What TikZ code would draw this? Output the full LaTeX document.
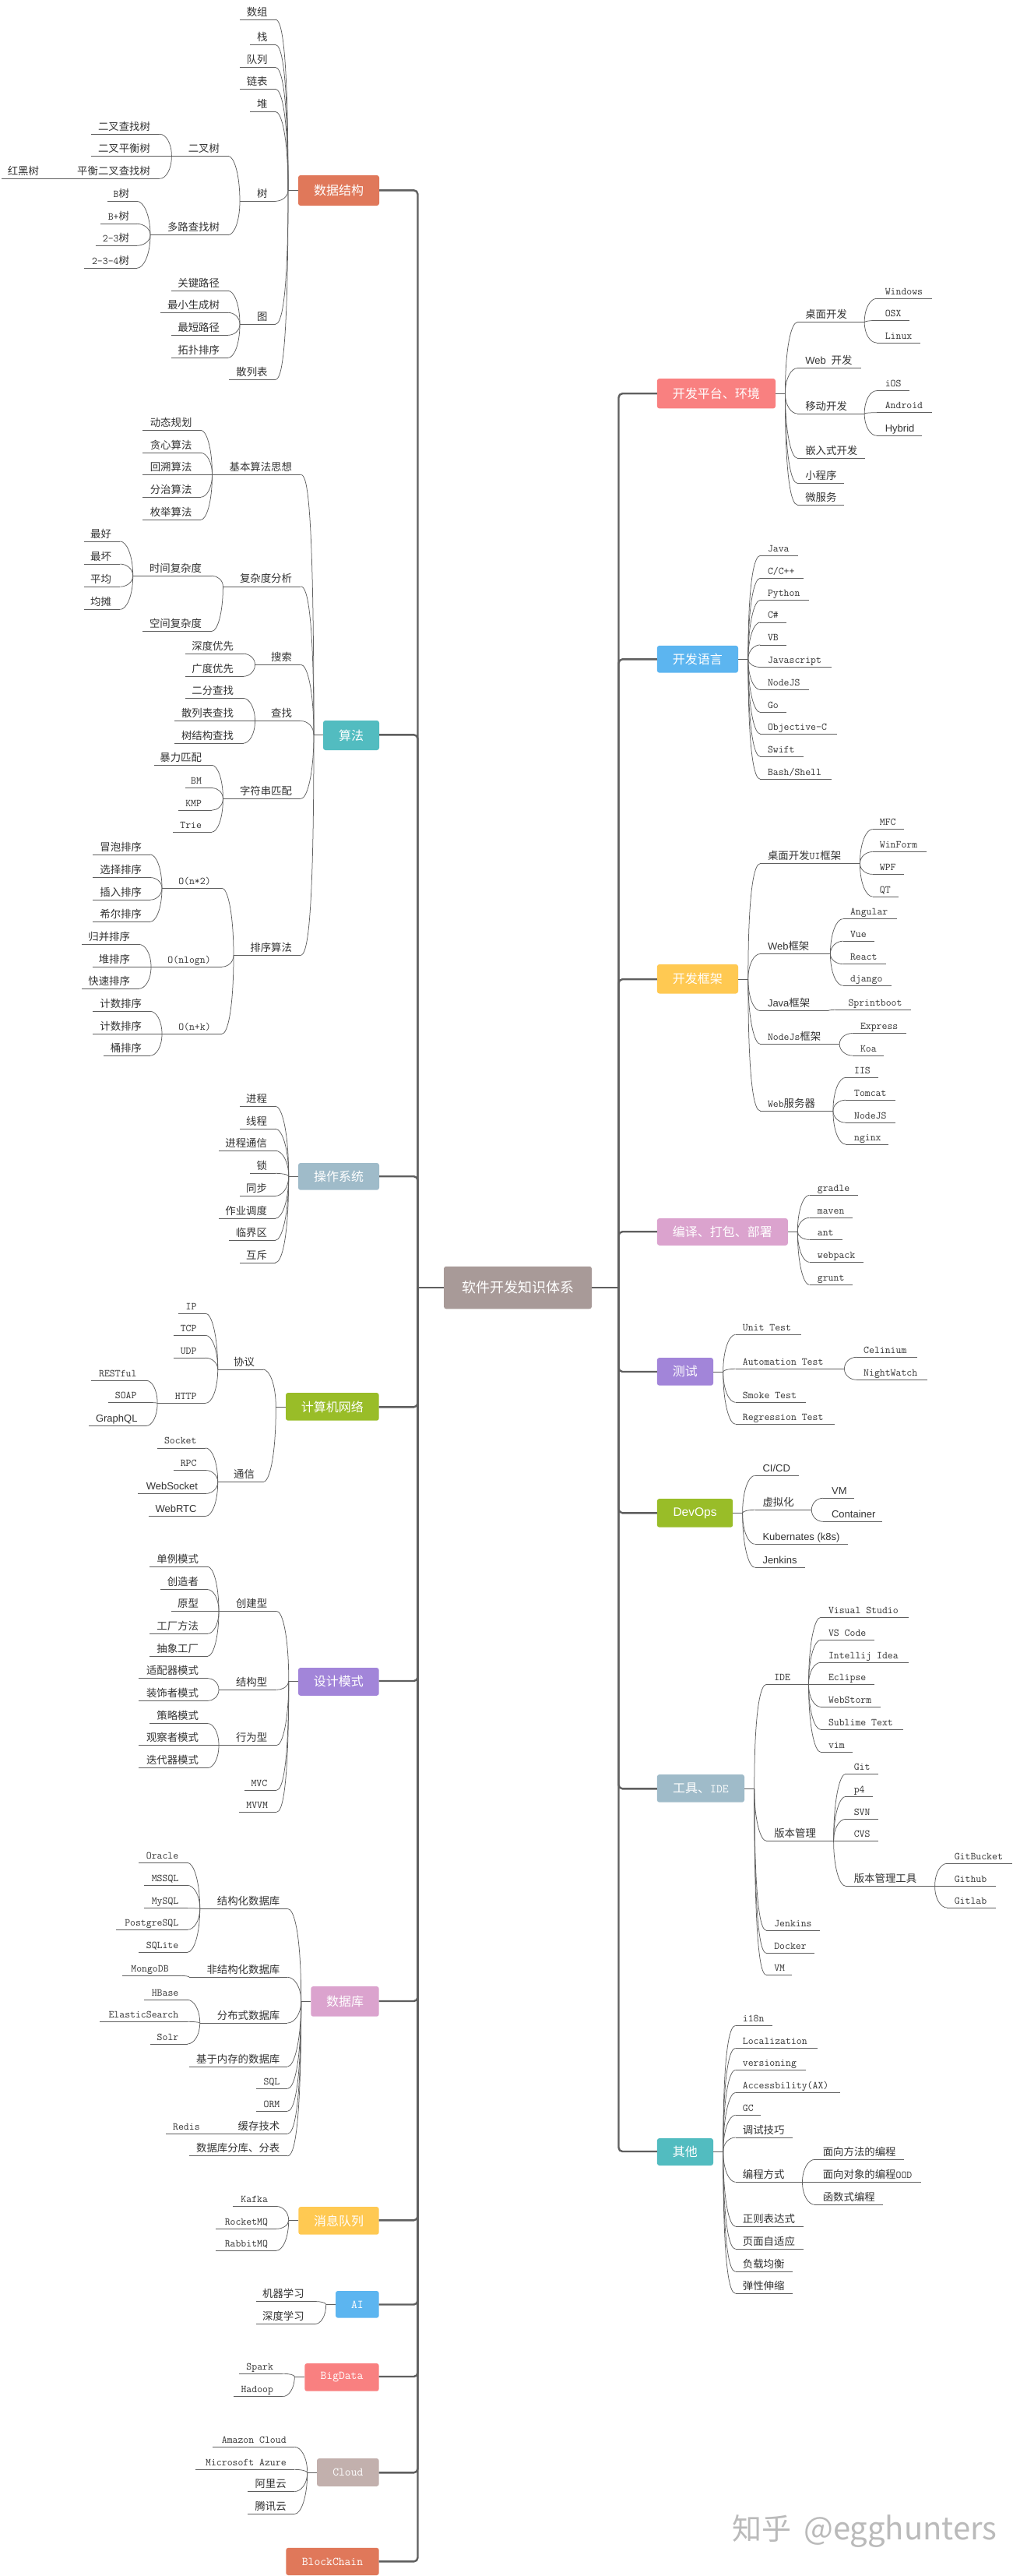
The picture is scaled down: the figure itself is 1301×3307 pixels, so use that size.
\documentclass[tikz,border=0pt]{standalone}
\usepackage{fontspec}
\usetikzlibrary{calc}
\newfontfamily\cjkf{Noto Sans CJK SC}
\newfontfamily\ssf{Liberation Sans}[Scale=0.97]
\newcommand\Zh[1]{{\cjkf #1}}
\newcommand\Ss[1]{{\ssf #1}}
\definecolor{cLine}{HTML}{5F5F5F}
\definecolor{cText}{HTML}{333333}
\definecolor{cOrange}{HTML}{E0785A}
\definecolor{cTeal}{HTML}{52BCC0}
\definecolor{cSlate}{HTML}{9FBBC9}
\definecolor{cGreen}{HTML}{99BD28}
\definecolor{cPurple}{HTML}{A285D9}
\definecolor{cPink}{HTML}{DBA3CE}
\definecolor{cYellow}{HTML}{FFC952}
\definecolor{cBlue}{HTML}{5CB5F0}
\definecolor{cRed}{HTML}{F98080}
\definecolor{cTaupe}{HTML}{C2B0AD}
\definecolor{cRoot}{HTML}{A89A98}
\tikzset{
 txt/.style={inner sep=0pt,outer sep=0pt,text=cText,font=\ttfamily\fontsize{13.4}{15}\selectfont},
 lnk/.style={draw=cLine,line width=0.75pt},
 trunk/.style={draw=cLine,line width=2.4pt},
 box/.style={inner sep=0pt,outer sep=0pt,rounded corners=3pt,text=white,font=\ttfamily\fontsize{15.2}{18}\selectfont},
}
\newcommand\conn[2]{\draw[lnk] let \p1=(#1),\p2=(#2),\n1={sign(\y1-\y2)*min(0.4*abs(\y1-\y2),33)} in (\p1) .. controls (\x1,\y2+\n1) and ({0.5*\x1+0.5*\x2},\y2) .. (\p2);}
% name, parent, xL, xText, xCurve, y, text
\newcommand\LL[7]{%
 \node[txt,anchor=base east] (#1) at (#4,#6-5) {#7};
 \coordinate (#1-j) at (#3,#6);
 \coordinate (#1-c) at (#5,#6);
 \draw[lnk] (#1-j)--(#1-c);
 \conn{#2-j}{#1-c}}
% name, parent, xCurve, xText, xR, y, text
\newcommand\RR[7]{%
 \node[txt,anchor=base west] (#1) at (#4,#6-5) {#7};
 \coordinate (#1-j) at (#5,#6);
 \coordinate (#1-c) at (#3,#6);
 \draw[lnk] (#1-c)--(#1-j);
 \conn{#2-j}{#1-c}}
% name, x0,y0,x1,y1, fill, junction x, line y, text
\newcommand\BX[9]{%
 \node[box,fill=#6,minimum width={(#4-#2)*1pt},minimum height={(#5-#3)*1pt}] (#1) at ({(#2+#4)/2},{(#3+#5)/2}) {#9};
 \coordinate (#1-j) at (#7,#8);
 \draw[lnk] (#1-j) -- (#1.west |- #1-j)}
\newcommand\BXL[9]{\BX{#1}{#2}{#3}{#4}{#5}{#6}{#7}{#8}{#9};
 \draw[trunk,rounded corners=5pt] (#1.east |- #1-j) -| (rootL);}
\newcommand\BXR[9]{%
 \node[box,fill=#6,minimum width={(#4-#2)*1pt},minimum height={(#5-#3)*1pt}] (#1) at ({(#2+#4)/2},{(#3+#5)/2}) {#9};
 \coordinate (#1-j) at (#7,#8);
 \draw[lnk] (#1-j) -- (#1.east |- #1-j);
 \draw[trunk,rounded corners=5pt] (#1.west |- #1-j) -| (rootR);}
\begin{document}
\begin{tikzpicture}[x=1pt,y=-1pt]
\fill[white] (0,0) rectangle (1301,3307);
\useasboundingbox (0,0) rectangle (1301,3307);
\coordinate (rootL) at (536.5,1653);
\coordinate (rootR) at (794.5,1653);
\node[box,fill=cRoot,minimum width=190pt,minimum height=54.5pt,font=\cjkf\fontsize{18}{20}\selectfont] (root) at (665,1653) {软件开发知识体系};
\draw[trunk] (rootL) -- (root.west |- rootL);
\draw[trunk] (root.east |- rootR) -- (rootR);

% ---------- 数据结构
\BXL{ds}{383}{225}{487}{264}{cOrange}{370}{244.3}{\Zh{\fontsize{16}{18}\selectfont 数据结构}}
\LL{ds1}{ds}{308}{343.6}{353.6}{25}{\Zh{数组}}
\LL{ds2}{ds}{321}{343.6}{353.6}{57.3}{\Zh{栈}}
\LL{ds3}{ds}{308}{343.6}{353.6}{86.3}{\Zh{队列}}
\LL{ds4}{ds}{308}{343.6}{353.6}{114.3}{\Zh{链表}}
\LL{ds5}{ds}{321}{343.6}{353.6}{143.3}{\Zh{堆}}
\LL{tree}{ds}{308}{343.6}{353.6}{258.3}{\Zh{树}}
\LL{graph}{ds}{308}{343.6}{353.6}{416.3}{\Zh{图}}
\LL{hash}{ds}{294}{343.6}{353.6}{487.3}{\Zh{散列表}}
\LL{bt}{tree}{220.4}{282}{293}{200.3}{\Zh{二叉树}}
\LL{mt}{tree}{193}{282}{293}{301.7}{\Zh{多路查找树}}
\LL{bt1}{bt}{117}{193}{205.4}{172.3}{\Zh{二叉查找树}}
\LL{bt2}{bt}{117}{193}{205.4}{200.3}{\Zh{二叉平衡树}}
\LL{bt3}{bt}{90}{193}{205.4}{229.3}{\Zh{平衡二叉查找树}}
\LL{rb}{bt3}{2}{50}{78}{229.3}{\Zh{红黑树}}
\LL{mt1}{mt}{137.5}{166}{175.7}{258.3}{B\Zh{树}}
\LL{mt2}{mt}{129}{166}{175.7}{287.3}{B+\Zh{树}}
\LL{mt3}{mt}{122.5}{166}{175.7}{315.3}{2-3\Zh{树}}
\LL{mt4}{mt}{108}{166}{175.7}{344.3}{2-3-4\Zh{树}}
\LL{g1}{graph}{219.6}{282}{293}{373.3}{\Zh{关键路径}}
\LL{g2}{graph}{205.7}{282}{293}{401.3}{\Zh{最小生成树}}
\LL{g3}{graph}{219.6}{282}{293}{430.3}{\Zh{最短路径}}
\LL{g4}{graph}{219.6}{282}{293}{459.3}{\Zh{拓扑排序}}

% ---------- 算法
\BXL{al}{415}{925}{487}{963}{cTeal}{403}{943.3}{\Zh{\fontsize{16}{18}\selectfont 算法}}
\LL{idea}{al}{272.5}{375}{386.4}{609.4}{\Zh{基本算法思想}}
\LL{cplx}{al}{286.4}{375}{386.4}{752.9}{\Zh{复杂度分析}}
\LL{srch}{al}{327.5}{375}{386.4}{853.2}{\Zh{搜索}}
\LL{find}{al}{327.5}{375}{386.4}{925.5}{\Zh{查找}}
\LL{strm}{al}{286.4}{375}{386.4}{1025.4}{\Zh{字符串匹配}}
\LL{sort}{al}{300}{375}{385.7}{1226.4}{\Zh{排序算法}}
\LL{i1}{idea}{183.2}{246.4}{257.9}{552.3}{\Zh{动态规划}}
\LL{i2}{idea}{183.2}{246.4}{257.9}{581.4}{\Zh{贪心算法}}
\LL{i3}{idea}{183.2}{246.4}{257.9}{609.4}{\Zh{回溯算法}}
\LL{i4}{idea}{183.2}{246.4}{257.9}{638.2}{\Zh{分治算法}}
\LL{i5}{idea}{183.2}{246.4}{257.9}{667.3}{\Zh{枚举算法}}
\LL{tc}{cplx}{170.7}{259}{272}{739.2}{\Zh{时间复杂度}}
\LL{sc}{cplx}{183}{259}{272}{810.4}{\Zh{空间复杂度}}
\LL{t1}{tc}{108}{142.9}{154.3}{695}{\Zh{最好}}
\LL{t2}{tc}{108}{142.9}{154.3}{724.1}{\Zh{最坏}}
\LL{t3}{tc}{108}{142.9}{154.3}{753.2}{\Zh{平均}}
\LL{t4}{tc}{108}{142.9}{154.3}{782.4}{\Zh{均摊}}
\LL{s1}{srch}{237.5}{300}{312.5}{839.2}{\Zh{深度优先}}
\LL{s2}{srch}{237.5}{300}{312.5}{868.3}{\Zh{广度优先}}
\LL{f1}{find}{237.5}{300}{312.5}{896.4}{\Zh{二分查找}}
\LL{f2}{find}{224.3}{300}{312.5}{925.5}{\Zh{散列表查找}}
\LL{f3}{find}{224.3}{300}{312.5}{954.2}{\Zh{树结构查找}}
\LL{m1}{strm}{197.5}{259}{272}{982.3}{\Zh{暴力匹配}}
\LL{m2}{strm}{237.5}{259}{272}{1011.4}{BM}
\LL{m3}{strm}{229}{259}{272}{1040.2}{KMP}
\LL{m4}{strm}{222}{259}{272}{1068.2}{Trie}
\LL{on2}{sort}{208}{270.7}{285}{1140.1}{O(n*2)}
\LL{onl}{sort}{194}{270.7}{285}{1241.2}{O(nlogn)}
\LL{onk}{sort}{208}{270.7}{285}{1327.4}{O(n+k)}
\LL{q1}{on2}{119}{182}{192.9}{1097}{\Zh{冒泡排序}}
\LL{q2}{on2}{119}{182}{192.9}{1126.5}{\Zh{选择排序}}
\LL{q3}{on2}{119}{182}{192.9}{1155.2}{\Zh{插入排序}}
\LL{q4}{on2}{119}{182}{192.9}{1183.3}{\Zh{希尔排序}}
\LL{q5}{onl}{105}{167}{178.6}{1212.4}{\Zh{归并排序}}
\LL{q6}{onl}{118.6}{167}{178.6}{1241.2}{\Zh{堆排序}}
\LL{q7}{onl}{105}{167}{178.6}{1269.2}{\Zh{快速排序}}
\LL{q8}{onk}{119}{182}{192.9}{1298.3}{\Zh{计数排序}}
\LL{q9}{onk}{119}{182}{192.9}{1327.4}{\Zh{计数排序}}
\LL{q10}{onk}{133}{182}{192.9}{1355.2}{\Zh{桶排序}}

% ---------- 操作系统
\BXL{os}{383}{1493}{487}{1527.7}{cSlate}{370.7}{1510.2}{\Zh{\fontsize{16}{18}\selectfont 操作系统}}
\LL{o1}{os}{308}{343}{353.6}{1420}{\Zh{进程}}
\LL{o2}{os}{308}{343}{353.6}{1449.2}{\Zh{线程}}
\LL{o3}{os}{281.4}{343}{353.6}{1477.2}{\Zh{进程通信}}
\LL{o4}{os}{321}{343}{353.6}{1506.3}{\Zh{锁}}
\LL{o5}{os}{308}{343}{353.6}{1535.4}{\Zh{同步}}
\LL{o6}{os}{281.4}{343}{353.6}{1564.2}{\Zh{作业调度}}
\LL{o7}{os}{294}{343}{353.6}{1592.3}{\Zh{临界区}}
\LL{o8}{os}{308}{343}{353.6}{1621}{\Zh{互斥}}

% ---------- 计算机网络
\BXL{net}{367}{1788}{486.7}{1823.7}{cGreen}{354.3}{1806.3}{\Zh{\fontsize{16}{18}\selectfont 计算机网络}}
\LL{prot}{net}{279.7}{327}{337.9}{1758}{\Zh{协议}}
\LL{comm}{net}{279.7}{327}{337.9}{1902.7}{\Zh{通信}}
\LL{n1}{prot}{228.8}{252.5}{264.2}{1686.2}{IP}
\LL{n2}{prot}{222.5}{252.5}{264.2}{1714.3}{TCP}
\LL{n3}{prot}{222.5}{252.5}{264.2}{1743.3}{UDP}
\LL{http}{prot}{202.1}{252.5}{264.2}{1801.3}{HTTP}
\LL{h1}{http}{117.3}{175.5}{188}{1772.3}{RESTful}
\LL{h2}{http}{138.6}{175.5}{188}{1800.4}{SOAP}
\LL{h3}{http}{114.4}{176.5}{188}{1830.4}{\Ss{GraphQL}}
\LL{c1}{comm}{201.6}{252.5}{264.2}{1858.9}{Socket}
\LL{c2}{comm}{222.5}{252.5}{264.2}{1887.5}{RPC}
\LL{c3}{comm}{177}{254}{264.2}{1917.4}{\Ss{WebSocket}}
\LL{c4}{comm}{190.5}{252.5}{264.2}{1946.4}{\Ss{WebRTC}}

% ---------- 设计模式
\BXL{dp}{383}{2141}{486.7}{2176.8}{cPurple}{370.8}{2158}{\Zh{\fontsize{16}{18}\selectfont 设计模式}}
\LL{cre}{dp}{281}{343.2}{355.3}{2068.3}{\Zh{创建型}}
\LL{str}{dp}{281}{343.2}{355.3}{2169.2}{\Zh{结构型}}
\LL{beh}{dp}{281}{343.2}{355.3}{2240.6}{\Zh{行为型}}
\LL{mvc}{dp}{313.6}{343.2}{355.3}{2298.2}{MVC}
\LL{mvvm}{dp}{306.7}{344}{355.3}{2326.3}{MVVM}
\LL{p1}{cre}{192.4}{255}{266.6}{2011.2}{\Zh{单例模式}}
\LL{p2}{cre}{205.5}{255}{266.6}{2040.6}{\Zh{创造者}}
\LL{p3}{cre}{219.6}{255}{266.6}{2068.3}{\Zh{原型}}
\LL{p4}{cre}{192.4}{255}{266.6}{2097.3}{\Zh{工厂方法}}
\LL{p5}{cre}{192.4}{255}{266.6}{2126.3}{\Zh{抽象工厂}}
\LL{p6}{str}{177.9}{255}{266.6}{2154.5}{\Zh{适配器模式}}
\LL{p7}{str}{177.9}{255}{266.6}{2183.5}{\Zh{装饰者模式}}
\LL{p8}{beh}{192.4}{255}{266.6}{2212.5}{\Zh{策略模式}}
\LL{p9}{beh}{177.9}{255}{266.6}{2240.6}{\Zh{观察者模式}}
\LL{p10}{beh}{177.9}{255}{266.6}{2269.6}{\Zh{迭代器模式}}

% ---------- 数据库
\BXL{db}{399.3}{2550}{486.7}{2588.7}{cPink}{386.7}{2569}{\Zh{\fontsize{16}{18}\selectfont 数据库}}
\LL{rdb}{db}{256.7}{359.3}{369.3}{2450.3}{\Zh{结构化数据库}}
\LL{ndb}{db}{243.3}{359.3}{369.3}{2538.3}{\Zh{非结构化数据库}}
\LL{ddb}{db}{256.7}{359.3}{369.3}{2597}{\Zh{分布式数据库}}
\LL{mdb}{db}{242.7}{359.3}{369.3}{2653}{\Zh{基于内存的数据库}}
\LL{sql}{db}{329.3}{359.3}{369.3}{2681.3}{SQL}
\LL{orm}{db}{329.3}{359.3}{369.3}{2710.3}{ORM}
\LL{cch}{db}{270}{359.3}{369.3}{2739.3}{\Zh{缓存技术}}
\LL{shard}{db}{242.7}{359.3}{369.3}{2767.7}{\Zh{数据库分库、分表}}
\LL{r1}{rdb}{178.3}{229.3}{240.7}{2391.3}{Oracle}
\LL{r2}{rdb}{185.3}{229.3}{240.7}{2420.3}{MSSQL}
\LL{r3}{rdb}{185.3}{229.3}{240.7}{2449.7}{MySQL}
\LL{r4}{rdb}{149.3}{229.3}{240.7}{2477.3}{PostgreSQL}
\LL{r5}{rdb}{178.3}{229.3}{240.7}{2506.3}{SQLite}
\LL{mongo}{ndb}{157.3}{216.7}{231.7}{2536.3}{MongoDB}
\LL{d1}{ddb}{185.3}{229.3}{240.7}{2567.3}{HBase}
\LL{d2}{ddb}{128.3}{229.3}{240.7}{2595.3}{ElasticSearch}
\LL{d3}{ddb}{193.3}{229.3}{240.7}{2624}{Solr}
\LL{redis}{cch}{213.3}{256.7}{262}{2739.3}{Redis}

% ---------- 消息队列 / AI / BigData / Cloud / BlockChain
\BXL{mq}{383.3}{2833}{486.7}{2868.7}{cYellow}{370.7}{2850.3}{\Zh{\fontsize{16}{18}\selectfont 消息队列}}
\LL{mq1}{mq}{299.3}{344}{355}{2832.4}{Kafka}
\LL{mq2}{mq}{277.3}{344}{355}{2861.3}{RocketMQ}
\LL{mq3}{mq}{277.3}{344}{355}{2889.2}{RabbitMQ}
\BXL{ai}{431}{2941}{486.7}{2975.6}{cBlue}{418.7}{2958.5}{AI}
\LL{ai1}{ai}{329.3}{390.7}{405}{2954.5}{\Zh{机器学习}}
\LL{ai2}{ai}{329.3}{390.7}{405}{2983.4}{\Zh{深度学习}}
\BXL{bd}{391.3}{3034}{486.7}{3069.7}{cRed}{378.3}{3051}{BigData}
\LL{bd1}{bd}{307.3}{351}{363.3}{3047.2}{Spark}
\LL{bd2}{bd}{300}{351}{363.3}{3076.5}{Hadoop}
\BXL{cl}{407}{3156}{486.7}{3191.8}{cTaupe}{394.7}{3174.3}{Cloud}
\LL{cl1}{cl}{273.3}{367.7}{378.3}{3141.3}{Amazon Cloud}
\LL{cl2}{cl}{251.3}{367.7}{378.3}{3170.3}{Microsoft Azure}
\LL{cl3}{cl}{318.3}{367.7}{378.3}{3198.5}{\Zh{阿里云}}
\LL{cl4}{cl}{318.3}{367.7}{378.3}{3227.4}{\Zh{腾讯云}}
\node[box,fill=cOrange,minimum width=119.4pt,minimum height=35.2pt] (bc) at (427,3288.4) {BlockChain};
\draw[trunk,rounded corners=5pt] (bc.east) -| (rootL);

% ---------- 开发平台、环境
\BXR{plat}{843.9}{486}{996}{524.4}{cRed}{1008.4}{505.2}{\Zh{\fontsize{16}{18}\selectfont 开发平台、环境}}
\RR{pd}{plat}{1024}{1034.3}{1110.2}{413.7}{\Zh{桌面开发}}
\RR{pw}{plat}{1024}{1034.3}{1105.8}{472.6}{\Ss{Web} \Zh{开发}}
\RR{pm}{plat}{1024}{1034.3}{1110.2}{531}{\Zh{移动开发}}
\RR{pe}{plat}{1024}{1034.3}{1111.3}{588.2}{\Zh{嵌入式开发}}
\RR{px}{plat}{1024}{1034.3}{1084.4}{620.4}{\Zh{小程序}}
\RR{ps}{plat}{1024}{1034.3}{1084.4}{648}{\Zh{微服务}}
\RR{pd1}{pd}{1125.8}{1136.8}{1196.9}{383.3}{Windows}
\RR{pd2}{pd}{1125.8}{1136.8}{1167.9}{411.4}{OSX}
\RR{pd3}{pd}{1125.8}{1136.8}{1181.7}{440}{Linux}
\RR{pm1}{pm}{1125.8}{1136.8}{1167.9}{501.6}{iOS}
\RR{pm2}{pm}{1125.8}{1136.8}{1196.9}{529.7}{Android}
\RR{pm3}{pm}{1125.8}{1136.8}{1184.4}{559.2}{\Ss{Hybrid}}

% ---------- 开发语言
\BXR{lang}{843.9}{828.8}{948}{863.7}{cBlue}{960.8}{846.3}{\Zh{\fontsize{16}{18}\selectfont 开发语言}}
\RR{l1}{lang}{976.4}{986}{1024.7}{713.2}{Java}
\RR{l2}{lang}{976.4}{986}{1031.6}{742.2}{C/C++}
\RR{l3}{lang}{976.4}{986}{1038.8}{770.4}{Python}
\RR{l4}{lang}{976.4}{986}{1009.8}{798.9}{C\#}
\RR{l5}{lang}{976.4}{986}{1009.8}{827.9}{VB}
\RR{l6}{lang}{976.4}{986}{1067.8}{856.5}{Javascript}
\RR{l7}{lang}{976.4}{986}{1038.8}{885.5}{NodeJS}
\RR{l8}{lang}{976.4}{986}{1009.8}{914.5}{Go}
\RR{l9}{lang}{976.4}{986}{1074.7}{942.2}{Objective-C}
\RR{l10}{lang}{976.4}{986}{1031.6}{971.3}{Swift}
\RR{l11}{lang}{976.4}{986}{1067.8}{1000.3}{Bash/Shell}

% ---------- 开发框架
\BXR{fw}{843.9}{1238}{948}{1275.5}{cYellow}{960.8}{1257.1}{\Zh{\fontsize{16}{18}\selectfont 开发框架}}
\RR{fd}{fw}{976.4}{986}{1104.4}{1108.6}{\Zh{桌面开发}UI\Zh{框架}}
\RR{fb}{fw}{976.4}{986}{1066.4}{1224.5}{\Ss{Web}\Zh{框架}}
\RR{fj}{fw}{976.4}{986}{1063.7}{1297.6}{\Ss{Java}\Zh{框架}}
\RR{fn}{fw}{976.4}{986}{1078.2}{1340.4}{NodeJs\Zh{框架}}
\RR{fs}{fw}{976.4}{986}{1069.9}{1426.1}{Web\Zh{服务器}}
\RR{fd1}{fd}{1120.6}{1129.9}{1161.3}{1064.5}{MFC}
\RR{fd2}{fd}{1120.6}{1129.9}{1189.6}{1093.5}{WinForm}
\RR{fd3}{fd}{1120.6}{1129.9}{1161.3}{1122.4}{WPF}
\RR{fd4}{fd}{1120.6}{1129.9}{1154}{1151}{QT}
\RR{fb1}{fb}{1082.6}{1092}{1151.6}{1179.6}{Angular}
\RR{fb2}{fb}{1082.6}{1092}{1123}{1208.2}{Vue}
\RR{fb3}{fb}{1082.6}{1092}{1137.9}{1237.6}{React}
\RR{fb4}{fb}{1082.6}{1092}{1144.8}{1265.3}{django}
\RR{fj1}{fj}{1073}{1089.5}{1169.6}{1296.3}{Sprintboot}
\RR{fn1}{fn}{1094.7}{1105}{1164.4}{1326.5}{Express}
\RR{fn2}{fn}{1094.7}{1105}{1135.4}{1355.1}{Koa}
\RR{fs1}{fs}{1086.1}{1097.1}{1127.5}{1383.3}{IIS}
\RR{fs2}{fs}{1086.1}{1097.1}{1149.9}{1412.2}{Tomcat}
\RR{fs3}{fs}{1086.1}{1097.1}{1149.9}{1441.2}{NodeJS}
\RR{fs4}{fs}{1086.1}{1097.1}{1141.3}{1469}{nginx}

% ---------- 编译、打包、部署
\BXR{bld}{843.9}{1564}{1011.9}{1598.8}{cPink}{1024.3}{1581.2}{\Zh{\fontsize{16}{18}\selectfont 编译、打包、部署}}
\RR{b1}{bld}{1039.5}{1049.9}{1102.3}{1534.3}{gradle}
\RR{b2}{bld}{1039.5}{1049.9}{1095.4}{1563.3}{maven}
\RR{b3}{bld}{1039.5}{1049.9}{1081.6}{1591.4}{ant}
\RR{b4}{bld}{1039.5}{1049.9}{1109.2}{1620.4}{webpack}
\RR{b5}{bld}{1039.5}{1049.9}{1095.4}{1649.4}{grunt}

% ---------- 测试
\BXR{tst}{843.9}{1743}{916}{1778.7}{cPurple}{928.7}{1761}{\Zh{\fontsize{16}{18}\selectfont 测试}}
\RR{e1}{tst}{944.6}{953.9}{1028.8}{1713.3}{Unit Test}
\RR{e2}{tst}{944.6}{953.9}{1084.4}{1757.3}{Automation Test}
\RR{e3}{tst}{944.6}{953.9}{1035.4}{1800.3}{Smoke Test}
\RR{e4}{tst}{944.6}{953.9}{1071.6}{1828.3}{Regression Test}
\RR{e21}{e2}{1099.9}{1109.2}{1177.5}{1742.3}{Celinium}
\RR{e22}{e2}{1099.9}{1109.2}{1191.3}{1771.3}{NightWatch}

% ---------- DevOps
\BXR{dev}{843.9}{1924}{941.2}{1960.7}{cGreen}{953.6}{1942.3}{\Ss{\fontsize{16}{18}\selectfont DevOps}}
\RR{v1}{dev}{969.5}{979.5}{1025.7}{1894.3}{\Ss{CI/CD}}
\RR{v2}{dev}{969.5}{979.5}{1042.3}{1938.3}{\Zh{虚拟化}}
\RR{v3}{dev}{969.5}{979.5}{1088.5}{1982.3}{\Ss{Kubernates (k8s)}}
\RR{v4}{dev}{969.5}{979.5}{1033.6}{2012.3}{\Ss{Jenkins}}
\RR{v21}{v2}{1056.8}{1068.1}{1096.8}{1923.3}{\Ss{VM}}
\RR{v22}{v2}{1056.8}{1068.1}{1133.4}{1953.3}{\Ss{Container}}

% ---------- 工具、IDE
\BXR{tool}{843.9}{2278}{956}{2313.7}{cSlate}{968.8}{2296.3}{\Zh{\fontsize{16}{18}\selectfont 工具、}IDE}
\RR{ide}{tool}{984.3}{994.3}{1038.5}{2162.3}{IDE}
\RR{vcs}{tool}{984.3}{994.3}{1070.6}{2363.3}{\Zh{版本管理}}
\RR{t5}{tool}{984.3}{994.3}{1053.3}{2478.3}{Jenkins}
\RR{t6}{tool}{984.3}{994.3}{1046.4}{2507.3}{Docker}
\RR{t7}{tool}{984.3}{994.3}{1017.4}{2535.3}{VM}
\RR{id1}{ide}{1054}{1064}{1166.5}{2076.3}{Visual Studio}
\RR{id2}{ide}{1054}{1064}{1123.4}{2105.3}{VS Code}
\RR{id3}{ide}{1054}{1064}{1166.5}{2134.3}{Intellij Idea}
\RR{id4}{ide}{1054}{1064}{1123.4}{2162.3}{Eclipse}
\RR{id5}{ide}{1054}{1064}{1130.6}{2191.3}{WebStorm}
\RR{id6}{ide}{1054}{1064}{1159.6}{2220.3}{Sublime Text}
\RR{id7}{ide}{1054}{1064}{1094.7}{2249.3}{vim}
\RR{vc1}{vcs}{1086.1}{1096.8}{1127.8}{2277.3}{Git}
\RR{vc2}{vcs}{1086.1}{1096.8}{1120.6}{2306.3}{p4}
\RR{vc3}{vcs}{1086.1}{1096.8}{1127.8}{2335.3}{SVN}
\RR{vc4}{vcs}{1086.1}{1096.8}{1127.8}{2363.3}{CVS}
\RR{vct}{vcs}{1086.1}{1096.8}{1200.6}{2421.3}{\Zh{版本管理工具}}
\RR{g5}{vct}{1216.2}{1225.8}{1300.4}{2392.3}{GitBucket}
\RR{g6}{vct}{1216.2}{1225.8}{1278.6}{2421.3}{Github}
\RR{g7}{vct}{1216.2}{1225.8}{1278.6}{2449}{Gitlab}

% ---------- 其他
\BXR{oth}{843.9}{2745}{916}{2780}{cTeal}{928.7}{2762}{\Zh{\fontsize{16}{18}\selectfont 其他}}
\RR{x1}{oth}{944.6}{953.9}{992.2}{2600.3}{i18n}
\RR{x2}{oth}{944.6}{953.9}{1049.9}{2629.3}{Localization}
\RR{x3}{oth}{944.6}{953.9}{1035.4}{2657.3}{versioning}
\RR{x4}{oth}{944.6}{953.9}{1078.5}{2686.3}{Accessbility(AX)}
\RR{x5}{oth}{944.6}{953.9}{977.4}{2715.3}{GC}
\RR{x6}{oth}{944.6}{953.9}{1017.8}{2744}{\Zh{调试技巧}}
\RR{prog}{oth}{944.6}{953.9}{1030.5}{2801.3}{\Zh{编程方式}}
\RR{x8}{oth}{944.6}{953.9}{1031.6}{2858.3}{\Zh{正则表达式}}
\RR{x9}{oth}{944.6}{953.9}{1031.6}{2887.3}{\Zh{页面自适应}}
\RR{x10}{oth}{944.6}{953.9}{1017.8}{2916.3}{\Zh{负载均衡}}
\RR{x11}{oth}{944.6}{953.9}{1017.8}{2944.3}{\Zh{弹性伸缩}}
\RR{y1}{prog}{1046.4}{1056.8}{1161.3}{2772.3}{\Zh{面向方法的编程}}
\RR{y2}{prog}{1046.4}{1056.8}{1182.7}{2801.3}{\Zh{面向对象的编程}OOD}
\RR{y3}{prog}{1046.4}{1056.8}{1133.7}{2830.3}{\Zh{函数式编程}}

\node[inner sep=0pt,anchor=base west,text=black!27,font=\cjkf\fontsize{38}{42}\selectfont] (wm) at (940,3260) {知乎\hspace{16pt}\fontsize{40}{42}\selectfont @egghunters};
\end{tikzpicture}
\end{document}
